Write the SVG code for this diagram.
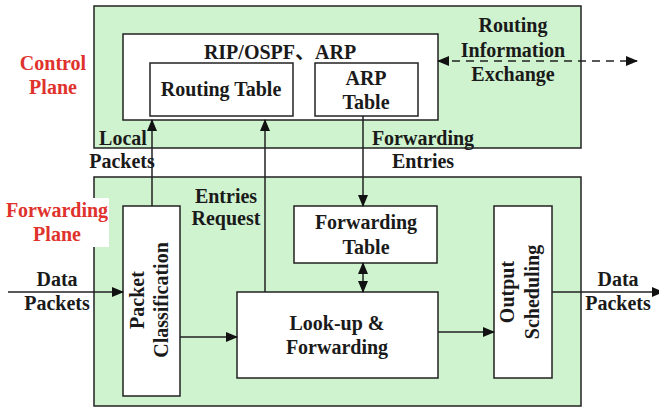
<svg xmlns="http://www.w3.org/2000/svg" width="659" height="407" viewBox="0 0 659 407">
  <style>
    .plane { fill: #cff3cf; stroke: #222; stroke-width: 1.5; }
    .box { fill: #fff; stroke: #222; stroke-width: 1.5; }
    .t { font-family: "Liberation Serif", "Noto Sans CJK SC", serif; font-weight: bold; font-size: 20px; fill: #1a1a1a; text-anchor: middle; }
    .red { fill: #e0322c; }
    .wire { fill: none; stroke: #222; stroke-width: 1.5; }
    .dash { stroke-dasharray: 8 6; }
  </style>
  <defs>
    <marker id="head" markerUnits="userSpaceOnUse" markerWidth="12" markerHeight="10" refX="11" refY="5" orient="auto-start-reverse">
      <path d="M0,0 L12,5 L0,10 Z" fill="#111"/>
    </marker>
  </defs>

  <!-- plane backgrounds -->
  <g id="control-plane">
    <rect class="plane" x="94" y="6" width="487" height="142"/>
    <text class="t red" x="53" y="70">Control</text>
    <text class="t red" x="53" y="94">Plane</text>
  </g>
  <g id="forwarding-plane">
    <rect class="plane" x="94" y="177" width="487" height="229"/>
    <rect x="0" y="198" width="109" height="49" fill="#fff"/>
    <text class="t red" x="57" y="217">Forwarding</text>
    <text class="t red" x="57" y="241">Plane</text>
  </g>

  <!-- control plane nodes -->
  <g id="protocols">
    <rect class="box" x="123" y="34" width="315" height="86"/>
    <text class="t" x="280" y="59">RIP/OSPF、ARP</text>
  </g>
  <g id="routing-table">
    <rect class="box" x="150" y="63" width="143" height="53"/>
    <text class="t" x="221" y="96">Routing Table</text>
  </g>
  <g id="arp-table">
    <rect class="box" x="315" y="63" width="103" height="53"/>
    <text class="t" x="366" y="85">ARP</text>
    <text class="t" x="366" y="109">Table</text>
  </g>

  <!-- forwarding plane nodes -->
  <g id="packet-classification">
    <rect class="box" x="123" y="206" width="57" height="190"/>
    <g transform="translate(151,300) rotate(-90)">
      <text class="t" x="0" y="-7">Packet</text>
      <text class="t" x="0" y="17">Classification</text>
    </g>
  </g>
  <g id="forwarding-table">
    <rect class="box" x="294" y="206" width="143" height="57"/>
    <text class="t" x="366" y="229">Forwarding</text>
    <text class="t" x="366" y="254">Table</text>
  </g>
  <g id="lookup-forwarding">
    <rect class="box" x="237" y="292" width="201" height="86"/>
    <text class="t" x="337" y="330">Look-up &amp;</text>
    <text class="t" x="337" y="354">Forwarding</text>
  </g>
  <g id="output-scheduling">
    <rect class="box" x="494" y="206" width="58" height="172"/>
    <g transform="translate(523,292) rotate(-90)">
      <text class="t" x="0" y="-9">Output</text>
      <text class="t" x="0" y="16">Scheduling</text>
    </g>
  </g>

  <!-- connectors -->
  <g id="connectors">
    <path class="wire" d="M152,206 V120" marker-end="url(#head)"/>
    <path class="wire" d="M265,292 V120" marker-end="url(#head)"/>
    <path class="wire" d="M363,116 V206" marker-end="url(#head)"/>
    <path class="wire" d="M363,263 V292" marker-start="url(#head)" marker-end="url(#head)"/>
    <path class="wire dash" d="M438,61 H637" marker-start="url(#head)" marker-end="url(#head)"/>
    <path class="wire" d="M8,292 H123" marker-end="url(#head)"/>
    <path class="wire" d="M180,337 H237" marker-end="url(#head)"/>
    <path class="wire" d="M438,332 H494" marker-end="url(#head)"/>
    <path class="wire" d="M552,292 H663" marker-end="url(#head)"/>
  </g>

  <!-- connector labels -->
  <g id="labels">
    <text class="t" x="513" y="32">Routing</text>
    <text class="t" x="513" y="57">Information</text>
    <text class="t" x="513" y="81">Exchange</text>
    <text class="t" x="123" y="145">Local</text>
    <text class="t" x="122" y="168">Packets</text>
    <text class="t" x="423" y="145">Forwarding</text>
    <text class="t" x="423" y="168">Entries</text>
    <text class="t" x="226" y="203">Entries</text>
    <text class="t" x="226" y="225">Request</text>
    <text class="t" x="57" y="286">Data</text>
    <text class="t" x="57" y="310">Packets</text>
    <text class="t" x="618" y="286">Data</text>
    <text class="t" x="618" y="310">Packets</text>
  </g>
</svg>
